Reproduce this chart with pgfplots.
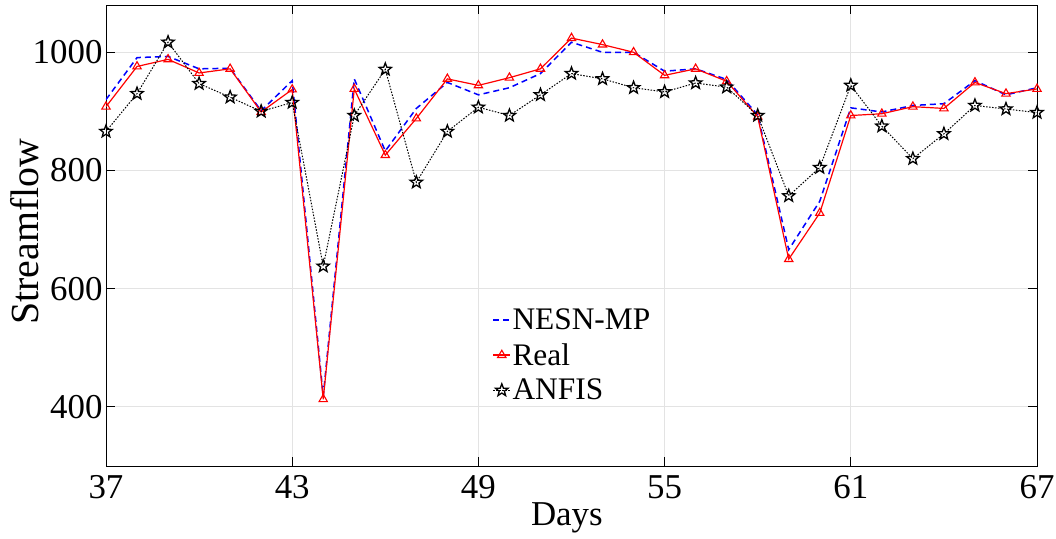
\documentclass[border=0pt]{standalone}
\usepackage{pgfplots}
\pgfplotsset{compat=1.18}
\usepackage{pgfplotstable}
\usepackage{fontspec}
\setmainfont{Liberation Serif}
\pgfdeclareplotmark{pstar}{%
  \pgfpathmoveto{\pgfqpointpolar{90}{\pgfplotmarksize}}%
  \pgfpathlineto{\pgfqpointpolar{126}{0.42\pgfplotmarksize}}%
  \pgfpathlineto{\pgfqpointpolar{162}{\pgfplotmarksize}}%
  \pgfpathlineto{\pgfqpointpolar{198}{0.42\pgfplotmarksize}}%
  \pgfpathlineto{\pgfqpointpolar{234}{\pgfplotmarksize}}%
  \pgfpathlineto{\pgfqpointpolar{270}{0.42\pgfplotmarksize}}%
  \pgfpathlineto{\pgfqpointpolar{306}{\pgfplotmarksize}}%
  \pgfpathlineto{\pgfqpointpolar{342}{0.42\pgfplotmarksize}}%
  \pgfpathlineto{\pgfqpointpolar{18}{\pgfplotmarksize}}%
  \pgfpathlineto{\pgfqpointpolar{54}{0.42\pgfplotmarksize}}%
  \pgfpathclose
  \pgfusepathqstroke
}
\pgfplotstableread{
day nesn real anfis
37 920 908 866
38 991 976 930
39 993 988 1017
40 972 965 947
41 973 972 924
42 901 899 900
43 952 937 915
44 418 413 638
45 955 938 893
46 833 826 971
47 905 888 780
48 949 955 866
49 928 944 907
50 940 957 893
51 964 972 928
52 1017 1024 964
53 1000 1013 955
54 1000 1000 940
55 968 961 933
56 972 972 948
57 954 951 941
58 894 891 893
59 666 650 757
60 748 728 805
61 906 893 944
62 899 896 875
63 910 908 820
64 913 905 862
65 952 949 910
66 928 930 904
67 940 938 898
}\datatab
\begin{document}
\begin{tikzpicture}
\begin{axis}[
  scale only axis,
  width=931bp, height=461bp,
  xmin=37, xmax=67, ymin=300, ymax=1080,
  xtick={37,43,49,55,61,67},
  ytick={400,600,800,1000},
  tick align=inside,
  major tick length=9bp,
  tick style={black, line width=0.8bp},
  axis line style={black, line width=0.9bp},
  grid=major,
  grid style={gray!22, line width=0.8bp},
  /pgf/number format/assume math mode=true,
  /pgf/number format/1000 sep={},
  ticklabel style={font=\fontsize{35}{40}\selectfont},
  xticklabel style={yshift=-6bp},
  xlabel={Days},
  ylabel={Streamflow},
  xlabel style={font=\fontsize{35}{40}\selectfont, at={(axis description cs:0.495,-0.128)}, anchor=base},
  ylabel style={font=\fontsize{40}{44}\selectfont, at={(axis description cs:-0.087,0.508)}, anchor=center, rotate=0},
  legend style={draw=none, fill=none, font=\fontsize{31.5}{36}\selectfont,
    at={(axis description cs:0.415,0.345)}, anchor=north west,
    inner sep=0bp, row sep=9.5bp, nodes={inner sep=1.5bp}},
  legend cell align=left,
  legend image code/.code={\draw[mark repeat=2,mark phase=2,#1] plot coordinates {(0bp,0bp) (8.5bp,0bp) (17bp,0bp)};},
]
\coordinate (O) at (rel axis cs:0,0);
\addplot[blue, line width=1.5bp, dash pattern=on 6bp off 4bp] table[x=day,y=nesn] {\datatab};
\addlegendentry{NESN-MP}
\addplot[red, line width=1.2bp, mark=triangle, mark size=4.8bp, mark options={solid, line width=1.1bp}] table[x=day,y=real] {\datatab};
\addlegendentry{Real}
\addplot[black, line width=1bp, dash pattern=on 1.5bp off 1.5bp, mark=pstar, mark size=6.5bp, mark options={solid, line width=1.3bp, line join=miter}] table[x=day,y=anfis] {\datatab};
\addlegendentry{ANFIS}
\end{axis}
\pgfresetboundingbox
\path (O) ++(-106bp,-73bp) rectangle ++(1056bp,539bp);
\end{tikzpicture}
\end{document}
